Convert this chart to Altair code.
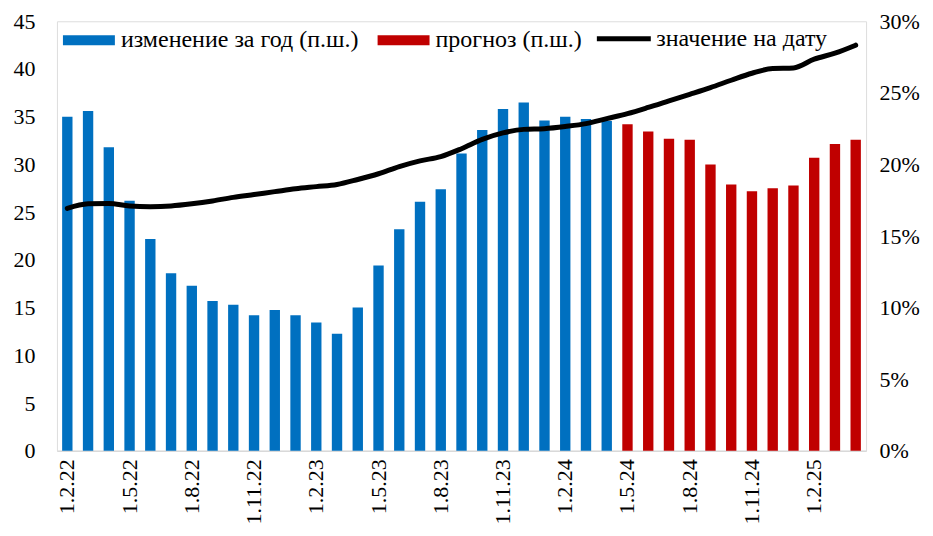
import altair as alt
import pandas as pd

months = ["1.2.22", "1.3.22", "1.4.22", "1.5.22", "1.6.22", "1.7.22", "1.8.22", "1.9.22",
          "1.10.22", "1.11.22", "1.12.22", "1.1.23", "1.2.23", "1.3.23", "1.4.23", "1.5.23",
          "1.6.23", "1.7.23", "1.8.23", "1.9.23", "1.10.23", "1.11.23", "1.12.23", "1.1.24",
          "1.2.24", "1.3.24", "1.4.24", "1.5.24", "1.6.24", "1.7.24", "1.8.24", "1.9.24",
          "1.10.24", "1.11.24", "1.12.24", "1.1.25", "1.2.25", "1.3.25", "1.4.25"]

actual_change = [35.0, 35.6, 31.8, 26.2, 22.2, 18.6, 17.3, 15.7, 15.3, 14.2, 14.75, 14.2,
                 13.45, 12.25, 15.0, 19.4, 23.2, 26.1, 27.4, 31.15, 33.6, 35.8, 36.5, 34.6,
                 35.0, 34.75, 34.55]
forecast_change = [34.2, 33.45, 32.7, 32.6, 30.0, 27.9, 27.2, 27.5, 27.8, 30.7, 32.15, 32.6]

level_pct = [16.93, 17.25, 17.28, 17.1, 17.05, 17.1, 17.25, 17.45, 17.7, 17.9, 18.1, 18.3,
             18.45, 18.6, 18.95, 19.35, 19.85, 20.25, 20.55, 21.1, 21.75, 22.2, 22.45, 22.5,
             22.65, 22.85, 23.2, 23.55, 23.98, 24.44, 24.9, 25.37, 25.88, 26.37, 26.7, 26.74,
             27.35, 27.77, 28.33]

x_tick_labels = ["1.2.22", "1.5.22", "1.8.22", "1.11.22", "1.2.23", "1.5.23", "1.8.23",
                 "1.11.23", "1.2.24", "1.5.24", "1.8.24", "1.11.24", "1.2.25"]

bar_series = ["изменение за год (п.ш.)", "прогноз (п.ш.)"]
bar_colors = ["#0070C0", "#C00000"]
line_series = ["значение на дату"]
line_colors = ["#000000"]

n_act = len(actual_change)
bars_df = pd.DataFrame({
    "month": months,
    "value": actual_change + forecast_change,
    "series": [bar_series[0]] * n_act + [bar_series[1]] * len(forecast_change),
})
line_df = pd.DataFrame({"month": months, "pct": [v / 100 for v in level_pct],
                        "line_series": line_series[0]})

FONT = "Liberation Serif"
AX_FS = 22
LEG_FS = 24

x_enc = alt.X("month:N", sort=months, title=None,
              scale=alt.Scale(paddingInner=0.5, paddingOuter=0.25),
              axis=alt.Axis(values=x_tick_labels, labelAngle=-90, labelFontSize=AX_FS,
                            labelFont=FONT, labelColor="#000", labelPadding=8,
                            ticks=False, domainColor="#d9d9d9", domainWidth=1.5,
                            labelOverlap=False, grid=False))

bar_path = "M-1,-0.19L1,-0.19L1,0.19L-1,0.19Z"

bar_legend = alt.Legend(
    title=None, orient="none", legendX=6, legendY=-7, direction="horizontal",
    labelFont=FONT, labelFontSize=LEG_FS, labelColor="#000", symbolSize=2704,
    symbolType=bar_path, columnPadding=19, labelOffset=6, symbolStrokeWidth=0,
    labelLimit=400,
)
line_legend = alt.Legend(
    title=None, orient="none", legendX=538, legendY=-12, direction="horizontal",
    labelFont=FONT, labelFontSize=LEG_FS, labelColor="#000", symbolSize=2916,
    symbolType="stroke", symbolStrokeWidth=5, labelOffset=3, labelLimit=400,
)

bars = alt.Chart(bars_df).mark_bar().encode(
    x=x_enc,
    y=alt.Y("value:Q", title=None,
            scale=alt.Scale(domain=[0, 45], nice=False),
            axis=alt.Axis(values=list(range(0, 50, 5)), grid=False, domain=False,
                          ticks=False, labelFontSize=AX_FS, labelFont=FONT,
                          labelColor="#000", labelPadding=22)),
    color=alt.Color("series:N", scale=alt.Scale(domain=bar_series, range=bar_colors),
                    legend=bar_legend),
)

line = alt.Chart(line_df).mark_line(strokeWidth=5, interpolate="monotone",
                                    strokeCap="round").encode(
    x=x_enc,
    y=alt.Y("pct:Q", title=None,
            scale=alt.Scale(domain=[0, 0.30], nice=False),
            axis=alt.Axis(orient="right", format=".0%",
                          values=[0, 0.05, 0.10, 0.15, 0.20, 0.25, 0.30],
                          grid=False, domain=False, ticks=False, labelFontSize=AX_FS,
                          labelFont=FONT, labelColor="#000", labelPadding=13)),
    color=alt.Color("line_series:N",
                    scale=alt.Scale(domain=line_series, range=line_colors),
                    legend=line_legend),
)

chart = alt.layer(bars, line).resolve_scale(y="independent", color="independent").properties(
    width=810, height=430,
    padding={"left": 5, "top": 1, "right": 5, "bottom": 0},
).configure_view(stroke=None).configure(background="white")

chart.save("out.html", embed_options={"renderer": "svg", "actions": False})
